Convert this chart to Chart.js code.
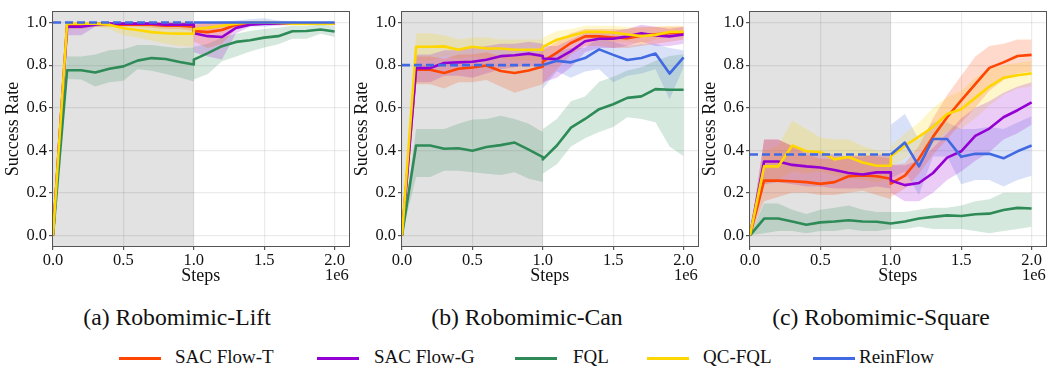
<!DOCTYPE html>
<html><head><meta charset="utf-8">
<script src="https://cdn.jsdelivr.net/npm/chart.js@4.4.1/dist/chart.umd.min.js"></script>
<style>
html,body{margin:0;padding:0;background:#fff;}
body{width:1048px;height:370px;overflow:hidden;position:relative;font-family:'Liberation Serif',serif;color:#111;}
canvas{position:absolute;top:0;}
.cap{position:absolute;top:304px;width:300px;text-align:center;font-size:23.7px;line-height:27px;white-space:nowrap;font-family:'Liberation Serif',serif;}
.lg{position:absolute;top:346px;font-size:19px;line-height:21px;white-space:nowrap;font-family:'Liberation Serif',serif;}
.sw{position:absolute;top:357px;width:42px;height:3px;}
</style></head><body>
<canvas id="c0" width="350" height="290" style="left:0px"></canvas>
<canvas id="c1" width="350" height="290" style="left:349px"></canvas>
<canvas id="c2" width="350" height="290" style="left:697px"></canvas>
<div id="caps"></div>
<div id="legend"></div>
<script>
// ---------- data ----------
const steps = [0,0.1,0.2,0.3,0.4,0.5,0.6,0.7,0.8,0.9,1.0, 1.0,1.1,1.2,1.3,1.4,1.5,1.6,1.7,1.8,1.9,2.0];
const offlineSpan = [0, 1.0];
const xTicks = [0, 0.5, 1.0, 1.5, 2.0];
const yTicks = [0, 0.2, 0.4, 0.6, 0.8, 1.0];
const seriesNames = ['SAC Flow-T','SAC Flow-G','FQL','QC-FQL','ReinFlow'];
const seriesColors = ['#FF4500','#9400D3','#2E8B57','#FFD700','#4169E1'];
const panelCaptions = ['(a) Robomimic-Lift','(b) Robomimic-Can','(c) Robomimic-Square'];
const xLabel = 'Steps';
const yLabel = 'Success Rate';
const xExponent = '1e6';

// Robomimic-Lift
const liftSacT   = [0,0.99,0.99,0.995,0.99,0.99,0.99,0.99,0.985,0.985,0.98, 0.96,0.955,0.965,0.99,0.995,0.995,0.995,0.995,0.995,0.995,0.995];
const liftSacTLo = [0,0.97,0.97,0.98,0.98,0.98,0.98,0.975,0.97,0.97,0.96, 0.91,0.88,0.90,0.97,0.985,0.99,0.99,0.99,0.99,0.99,0.99];
const liftSacTHi = [0,1.0,1.0,1.0,1.0,1.0,1.0,1.0,1.0,1.0,1.0, 0.99,0.995,1.0,1.0,1.0,1.0,1.0,1.0,1.0,1.0,1.0];
const liftSacG   = [0,0.98,0.98,0.99,0.995,0.995,0.995,0.995,0.99,0.99,0.99, 0.95,0.936,0.932,0.975,0.99,0.995,0.995,0.995,0.995,0.995,0.995];
const liftSacGLo = [0,0.94,0.94,0.98,0.985,0.985,0.985,0.985,0.98,0.98,0.98, 0.86,0.84,0.826,0.95,0.98,0.985,0.985,0.99,0.99,0.99,0.99];
const liftSacGHi = [0,1.0,1.0,1.0,1.0,1.0,1.0,1.0,1.0,1.0,1.0, 1.0,1.0,1.0,1.0,1.0,1.0,1.0,1.0,1.0,1.0,1.0];
const liftFql    = [0,0.776,0.776,0.765,0.783,0.794,0.821,0.833,0.829,0.815,0.803, 0.826,0.856,0.889,0.909,0.917,0.929,0.936,0.959,0.96,0.967,0.958];
const liftFqlLo  = [0,0.735,0.732,0.70,0.72,0.727,0.78,0.773,0.758,0.742,0.723, 0.732,0.758,0.818,0.84,0.864,0.883,0.898,0.924,0.924,0.947,0.932];
const liftFqlHi  = [0,0.84,0.84,0.85,0.87,0.874,0.894,0.894,0.886,0.879,0.883, 0.886,0.90,0.93,0.947,0.96,0.97,0.975,0.985,0.985,0.99,0.985];
const liftQc     = [0,0.995,0.995,0.995,0.99,0.973,0.965,0.955,0.95,0.948,0.947, 0.97,0.975,0.985,0.995,1.0,1.0,0.998,0.995,0.995,0.995,0.995];
const liftQcLo   = [0,0.98,0.98,0.98,0.97,0.94,0.93,0.915,0.90,0.89,0.886, 0.94,0.95,0.965,0.985,0.99,0.99,0.99,0.985,0.985,0.985,0.985];
const liftQcHi   = [0,1.0,1.0,1.0,1.0,1.0,1.0,1.0,1.0,1.0,1.0, 0.995,1.0,1.0,1.0,1.005,1.01,1.005,1.0,1.0,1.0,1.0];
const liftReinPre = 1.0;
const liftRein   = [null,null,null,null,null,null,null,null,null,null,null, 1.0,1.0,1.0,1.0,1.0,1.0,1.0,1.0,1.0,1.0,1.0];
const liftReinLo = [null,null,null,null,null,null,null,null,null,null,null, 1.0,1.0,0.995,0.99,0.985,0.98,0.99,0.995,1.0,1.0,1.0];
const liftReinHi = [null,null,null,null,null,null,null,null,null,null,null, 1.0,1.0,1.005,1.01,1.015,1.02,1.01,1.005,1.0,1.0,1.0];

// Robomimic-Can
const canSacT    = [0,0.778,0.778,0.763,0.783,0.789,0.798,0.772,0.763,0.775,0.793, 0.816,0.859,0.904,0.935,0.935,0.93,0.926,0.938,0.945,0.95,0.953];
const canSacTLo  = [0,0.71,0.71,0.69,0.72,0.72,0.73,0.70,0.67,0.69,0.71, 0.71,0.78,0.85,0.89,0.89,0.88,0.88,0.89,0.90,0.91,0.92];
const canSacTHi  = [0,0.84,0.84,0.83,0.85,0.85,0.86,0.84,0.84,0.85,0.86, 0.87,0.91,0.95,0.97,0.97,0.97,0.97,0.98,0.98,0.98,0.98];
const canSacG    = [0,0.786,0.786,0.81,0.813,0.816,0.825,0.842,0.846,0.854,0.843, 0.831,0.828,0.866,0.912,0.924,0.924,0.935,0.95,0.939,0.935,0.944];
const canSacGLo  = [0,0.72,0.72,0.75,0.75,0.74,0.76,0.78,0.79,0.80,0.78, 0.72,0.74,0.79,0.86,0.88,0.88,0.89,0.91,0.89,0.89,0.90];
const canSacGHi  = [0,0.85,0.85,0.87,0.87,0.88,0.89,0.90,0.90,0.91,0.90, 0.89,0.89,0.92,0.95,0.96,0.96,0.97,0.99,0.98,0.97,0.98];
const canFql     = [0,0.422,0.422,0.407,0.409,0.398,0.415,0.424,0.436,0.403,0.368, 0.357,0.422,0.506,0.547,0.593,0.616,0.646,0.653,0.687,0.684,0.684];
const canFqlLo   = [0,0.274,0.274,0.304,0.304,0.296,0.29,0.284,0.296,0.266,0.251, 0.289,0.334,0.418,0.456,0.486,0.509,0.555,0.547,0.532,0.418,0.372];
const canFqlHi   = [0,0.50,0.50,0.50,0.524,0.544,0.547,0.562,0.547,0.524,0.486, 0.50,0.547,0.63,0.653,0.722,0.745,0.775,0.79,0.82,0.843,0.851];
const canQc      = [0,0.886,0.886,0.888,0.872,0.886,0.878,0.878,0.872,0.872,0.872, 0.886,0.919,0.938,0.956,0.956,0.953,0.944,0.936,0.942,0.956,0.957];
const canQcLo    = [0,0.82,0.82,0.84,0.83,0.84,0.83,0.83,0.82,0.82,0.82, 0.82,0.87,0.90,0.92,0.92,0.91,0.91,0.90,0.92,0.93,0.93];
const canQcHi    = [0,0.95,0.95,0.94,0.92,0.93,0.93,0.92,0.92,0.92,0.92, 0.93,0.96,0.97,0.985,0.985,0.985,0.98,0.975,0.98,0.985,0.985];
const canReinPre = 0.80;
const canRein    = [null,null,null,null,null,null,null,null,null,null,null, 0.80,0.82,0.813,0.833,0.874,0.848,0.824,0.833,0.854,0.76,0.836];
const canReinLo  = [null,null,null,null,null,null,null,null,null,null,null, 0.69,0.77,0.74,0.77,0.78,0.72,0.75,0.76,0.78,0.64,0.79];
const canReinHi  = [null,null,null,null,null,null,null,null,null,null,null, 0.83,0.86,0.88,0.88,0.93,0.91,0.89,0.90,0.90,0.88,0.87];

// Robomimic-Square
const sqSacT     = [0,0.257,0.257,0.254,0.25,0.242,0.25,0.278,0.281,0.278,0.266, 0.243,0.281,0.36,0.464,0.555,0.634,0.711,0.787,0.813,0.843,0.848];
const sqSacTLo   = [0,0.16,0.18,0.20,0.20,0.19,0.19,0.20,0.21,0.19,0.17, 0.18,0.22,0.29,0.38,0.45,0.53,0.60,0.68,0.73,0.76,0.77];
const sqSacTHi   = [0,0.45,0.45,0.42,0.38,0.36,0.36,0.37,0.38,0.37,0.36, 0.33,0.34,0.42,0.55,0.66,0.75,0.84,0.89,0.90,0.92,0.92];
const sqSacG     = [0,0.347,0.347,0.331,0.324,0.319,0.307,0.293,0.286,0.296,0.296, 0.258,0.236,0.246,0.293,0.365,0.395,0.467,0.502,0.555,0.588,0.625];
const sqSacGLo   = [0,0.24,0.25,0.24,0.23,0.23,0.22,0.22,0.22,0.23,0.22, 0.20,0.16,0.16,0.20,0.26,0.30,0.35,0.39,0.45,0.48,0.52];
const sqSacGHi   = [0,0.45,0.45,0.42,0.40,0.39,0.38,0.37,0.37,0.38,0.38, 0.33,0.33,0.35,0.41,0.48,0.55,0.60,0.63,0.67,0.70,0.72];
const sqFql      = [0,0.079,0.079,0.065,0.05,0.061,0.065,0.071,0.065,0.064,0.056, 0.056,0.065,0.079,0.087,0.094,0.091,0.099,0.102,0.119,0.129,0.126];
const sqFqlLo    = [0,0.01,0.02,0.02,0.01,0.02,0.02,0.03,0.02,0.02,0.03, 0.03,0.03,0.04,0.03,0.03,0.03,0.02,0.01,0.02,0.03,0.04];
const sqFqlHi    = [0,0.15,0.15,0.12,0.10,0.12,0.13,0.14,0.12,0.11,0.11, 0.11,0.11,0.12,0.13,0.13,0.14,0.16,0.17,0.20,0.20,0.20];
const sqQc       = [0,0.324,0.324,0.422,0.395,0.392,0.357,0.368,0.342,0.327,0.327, 0.372,0.421,0.464,0.509,0.57,0.593,0.646,0.699,0.74,0.752,0.761];
const sqQcLo     = [0,0.24,0.26,0.30,0.29,0.30,0.28,0.27,0.26,0.25,0.26, 0.32,0.36,0.40,0.43,0.49,0.50,0.55,0.61,0.66,0.69,0.70];
const sqQcHi     = [0,0.40,0.42,0.54,0.50,0.46,0.45,0.45,0.42,0.40,0.38, 0.42,0.48,0.53,0.60,0.65,0.68,0.74,0.78,0.80,0.81,0.82];
const sqReinPre  = 0.38;
const sqRein     = [null,null,null,null,null,null,null,null,null,null,null, 0.38,0.436,0.324,0.453,0.453,0.369,0.383,0.383,0.362,0.395,0.422];
const sqReinLo   = [null,null,null,null,null,null,null,null,null,null,null, 0.27,0.30,0.19,0.37,0.37,0.24,0.26,0.26,0.23,0.26,0.28];
const sqReinHi   = [null,null,null,null,null,null,null,null,null,null,null, 0.52,0.57,0.45,0.53,0.53,0.50,0.50,0.51,0.50,0.53,0.56];

// ---------- build ----------
const FONT = "'Liberation Serif', serif";
Chart.defaults.font.family = FONT;
function rgba(hex, a){const n=parseInt(hex.slice(1),16);return 'rgba('+(n>>16&255)+','+(n>>8&255)+','+(n&255)+','+a+')';}
function pts(arr){return steps.map((x,i)=>({x:x, y:arr[i]}));}

const panelData = [
  {id:'c0', m:[liftSacT,liftSacG,liftFql,liftQc,liftRein], lo:[liftSacTLo,liftSacGLo,liftFqlLo,liftQcLo,liftReinLo], hi:[liftSacTHi,liftSacGHi,liftFqlHi,liftQcHi,liftReinHi], pre:liftReinPre},
  {id:'c1', m:[canSacT,canSacG,canFql,canQc,canRein], lo:[canSacTLo,canSacGLo,canFqlLo,canQcLo,canReinLo], hi:[canSacTHi,canSacGHi,canFqlHi,canQcHi,canReinHi], pre:canReinPre},
  {id:'c2', m:[sqSacT,sqSacG,sqFql,sqQc,sqRein], lo:[sqSacTLo,sqSacGLo,sqFqlLo,sqQcLo,sqReinLo], hi:[sqSacTHi,sqSacGHi,sqFqlHi,sqQcHi,sqReinHi], pre:sqReinPre}
];

const decor = {
  id:'decor',
  beforeDraw(chart){
    const {ctx, chartArea:a, scales:{x}} = chart;
    const x0 = x.getPixelForValue(offlineSpan[0]), x1 = x.getPixelForValue(offlineSpan[1]);
    ctx.save(); ctx.fillStyle = '#e2e2e2';
    ctx.fillRect(x0, a.top, x1-x0, a.bottom-a.top); ctx.restore();
  },
  afterDraw(chart){
    const {ctx, chartArea:a} = chart;
    ctx.save();
    ctx.strokeStyle = '#555'; ctx.lineWidth = 1;
    ctx.strokeRect(Math.round(a.left)-0.5, Math.round(a.top)-0.5, Math.round(a.right-a.left)+1, Math.round(a.bottom-a.top)+1);
    ctx.fillStyle = '#111'; ctx.font = '16.5px ' + FONT;
    ctx.textAlign = 'right'; ctx.textBaseline = 'alphabetic';
    ctx.fillText(xExponent, a.right, a.bottom + 34);
    ctx.restore();
  }
};

panelData.forEach(p => {
  const datasets = [];
  for (let s = 0; s < 5; s++) {
    const c = seriesColors[s];
    datasets.push({label: seriesNames[s]+' hi', data: pts(p.hi[s]), borderWidth:0, pointRadius:0, fill:'+1', backgroundColor: rgba(c,0.2), order: 20+s});
    datasets.push({label: seriesNames[s]+' lo', data: pts(p.lo[s]), borderWidth:0, pointRadius:0, fill:false, order: 20+s});
  }
  for (let s = 0; s < 5; s++) {
    datasets.push({label: seriesNames[s], data: pts(p.m[s]), borderColor: seriesColors[s], borderWidth:2.6, pointRadius:0, fill:false, tension:0, order: 10-s, borderJoinStyle:'round'});
  }
  datasets.push({label: seriesNames[4]+' pretrained', data: [{x:offlineSpan[0], y:p.pre},{x:offlineSpan[1], y:p.pre}], borderColor: seriesColors[4], borderWidth:2.6, borderDash:[8,4], pointRadius:0, fill:false, order: 1});

  new Chart(document.getElementById(p.id), {
    type:'line',
    data:{datasets},
    options:{
      responsive:false, animation:false, events:[],
      layout:{padding:{left:0, right:1.3, top:4, bottom:0}},
      plugins:{legend:{display:false}, tooltip:{enabled:false}},
      scales:{
        x:{type:'linear', min:0, max:2.1,
          afterBuildTicks(sc){sc.ticks = xTicks.map(v=>({value:v}));},
          afterFit(sc){sc.height = 44;},
          grid:{color:'rgba(0,0,0,0.08)', tickColor:'#555', tickLength:4, lineWidth:1.2},
          border:{display:false},
          ticks:{color:'#111', font:{family:FONT, size:16.5}, padding:1, maxRotation:0, autoSkip:false, callback:v=>Number(v).toFixed(1)},
          title:{display:true, text:xLabel, color:'#111', font:{family:FONT, size:18}, padding:{top:0, bottom:3}}
        },
        y:{type:'linear', min:-0.05, max:1.05,
          afterBuildTicks(sc){sc.ticks = yTicks.map(v=>({value:v}));},
          afterFit(sc){sc.width = 53;},
          grid:{color:'rgba(0,0,0,0.08)', tickColor:'#555', tickLength:4, lineWidth:1.2},
          border:{display:false},
          ticks:{color:'#111', font:{family:FONT, size:16.5}, padding:2, autoSkip:false, callback:v=>Number(v).toFixed(1)},
          title:{display:true, text:yLabel, color:'#111', font:{family:FONT, size:18}, padding:{top:2, bottom:0}}
        }
      }
    },
    plugins:[decor]
  });
});

// captions
const capCenters = [177, 527, 881];
const capsEl = document.getElementById('caps');
panelCaptions.forEach((t,i)=>{
  const d = document.createElement('div'); d.className='cap'; d.textContent=t;
  d.style.left = (capCenters[i]-150)+'px'; capsEl.appendChild(d);
});
// legend
const swX = [119, 317, 515, 647, 813];
const txX = [175, 374, 573, 703, 859];
const lgEl = document.getElementById('legend');
seriesNames.forEach((n,i)=>{
  const sw = document.createElement('div'); sw.className='sw'; sw.style.left=swX[i]+'px'; sw.style.background=seriesColors[i]; lgEl.appendChild(sw);
  const t = document.createElement('div'); t.className='lg'; t.style.left=txX[i]+'px'; t.textContent=n; lgEl.appendChild(t);
});
</script>
</body></html>
